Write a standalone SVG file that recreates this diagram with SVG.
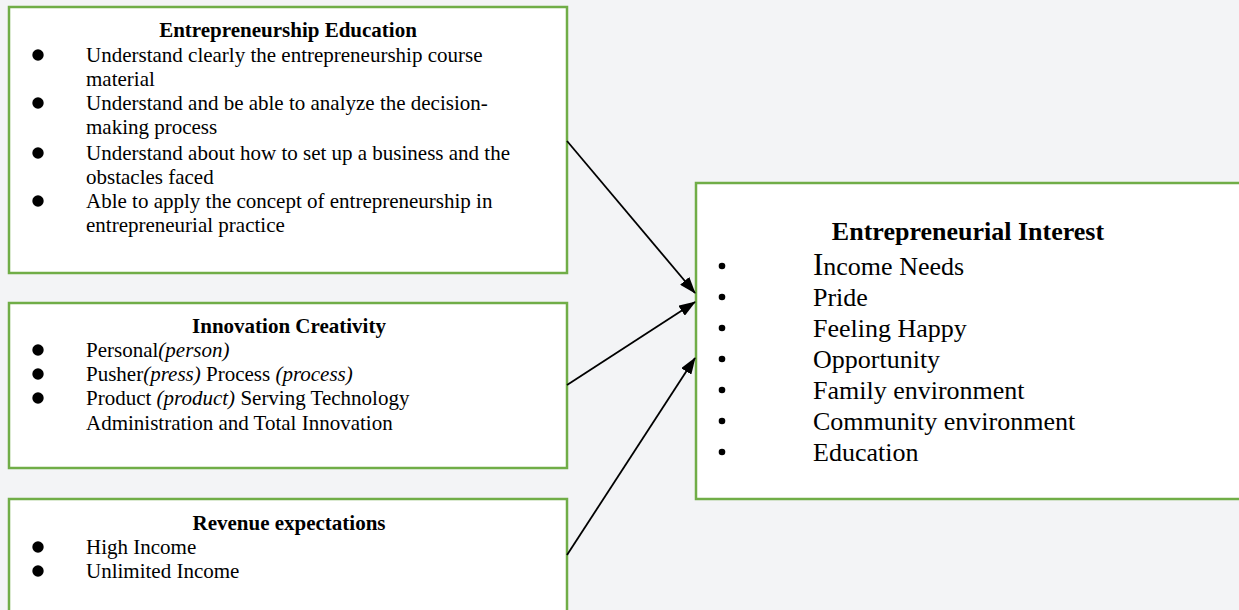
<svg xmlns="http://www.w3.org/2000/svg" width="1239" height="610" viewBox="0 0 1239 610">
<style>
.box{fill:#ffffff;stroke:#70ad47;stroke-width:2.5}
.t{font-family:"Liberation Serif","Times New Roman",serif;fill:#000}
.s{font-size:21px}
.l{font-size:26px}
.b{font-weight:bold}
.i{font-style:italic}
.c{text-anchor:middle}
.conn line{stroke:#000;stroke-width:1.8;marker-end:url(#ah)}
</style>
<defs>
<marker id="ah" viewBox="0 0 17 12" refX="16" refY="6" markerWidth="17" markerHeight="12" markerUnits="userSpaceOnUse" orient="auto">
<path d="M0,0 L17,6 L0,12 z" fill="#000"/>
</marker>
</defs>
<rect x="0" y="0" width="1239" height="610" fill="#f3f4f6"/>
<g id="node-education">
<rect class="box" x="9" y="7" width="558" height="266"/>
<text class="t s b c" x="288" y="37">Entrepreneurship Education</text>
<circle cx="38" cy="55" r="5.7"/><circle cx="38" cy="103" r="5.7"/><circle cx="38" cy="153" r="5.7"/><circle cx="38" cy="201" r="5.7"/>
<text class="t s" x="86" y="62">Understand clearly the entrepreneurship course</text>
<text class="t s" x="86" y="86">material</text>
<text class="t s" x="86" y="110">Understand and be able to analyze the decision-</text>
<text class="t s" x="86" y="134">making process</text>
<text class="t s" x="86" y="160">Understand about how to set up a business and the</text>
<text class="t s" x="86" y="184">obstacles faced</text>
<text class="t s" x="86" y="208">Able to apply the concept of entrepreneurship in</text>
<text class="t s" x="86" y="232">entrepreneurial practice</text>
</g>
<g id="node-innovation">
<rect class="box" x="9" y="303" width="558" height="165"/>
<text class="t s b c" x="289" y="333">Innovation Creativity</text>
<circle cx="38" cy="350" r="5.7"/><circle cx="38" cy="374" r="5.7"/><circle cx="38" cy="398" r="5.7"/>
<text class="t s" x="86" y="357">Personal<tspan class="i">(person)</tspan></text>
<text class="t s" x="86" y="381">Pusher<tspan class="i">(press)</tspan> Process <tspan class="i">(process)</tspan></text>
<text class="t s" x="86" y="405">Product <tspan class="i">(product)</tspan> Serving Technology</text>
<text class="t s" x="86" y="430">Administration and Total Innovation</text>
</g>
<g id="node-revenue">
<rect class="box" x="9" y="499" width="558" height="130"/>
<text class="t s b c" x="289" y="530">Revenue expectations</text>
<circle cx="38" cy="547" r="5.7"/><circle cx="38" cy="571" r="5.7"/>
<text class="t s" x="86" y="554">High Income</text>
<text class="t s" x="86" y="578">Unlimited Income</text>
</g>
<g id="node-interest">
<rect class="box" x="696" y="183" width="560" height="316"/>
<text class="t l b c" x="968" y="240">Entrepreneurial Interest</text>
<g>
<circle cx="722" cy="266" r="3.3"/><circle cx="722" cy="297" r="3.3"/><circle cx="722" cy="328" r="3.3"/><circle cx="722" cy="359" r="3.3"/><circle cx="722" cy="390" r="3.3"/><circle cx="722" cy="421" r="3.3"/><circle cx="722" cy="452" r="3.3"/>
</g>
<text class="t l" x="813" y="275"><tspan style="font-size:31px">I</tspan>ncome Needs</text>
<text class="t l" x="813" y="306">Pride</text>
<text class="t l" x="813" y="337">Feeling Happy</text>
<text class="t l" x="813" y="368">Opportunity</text>
<text class="t l" x="813" y="399">Family environment</text>
<text class="t l" x="813" y="430">Community environment</text>
<text class="t l" x="813" y="461">Education</text>
</g>
<g id="connectors" class="conn">
<line x1="567" y1="141" x2="695" y2="293"/>
<line x1="567" y1="385" x2="695" y2="302"/>
<line x1="567" y1="555" x2="695" y2="358"/>
</g>
</svg>
